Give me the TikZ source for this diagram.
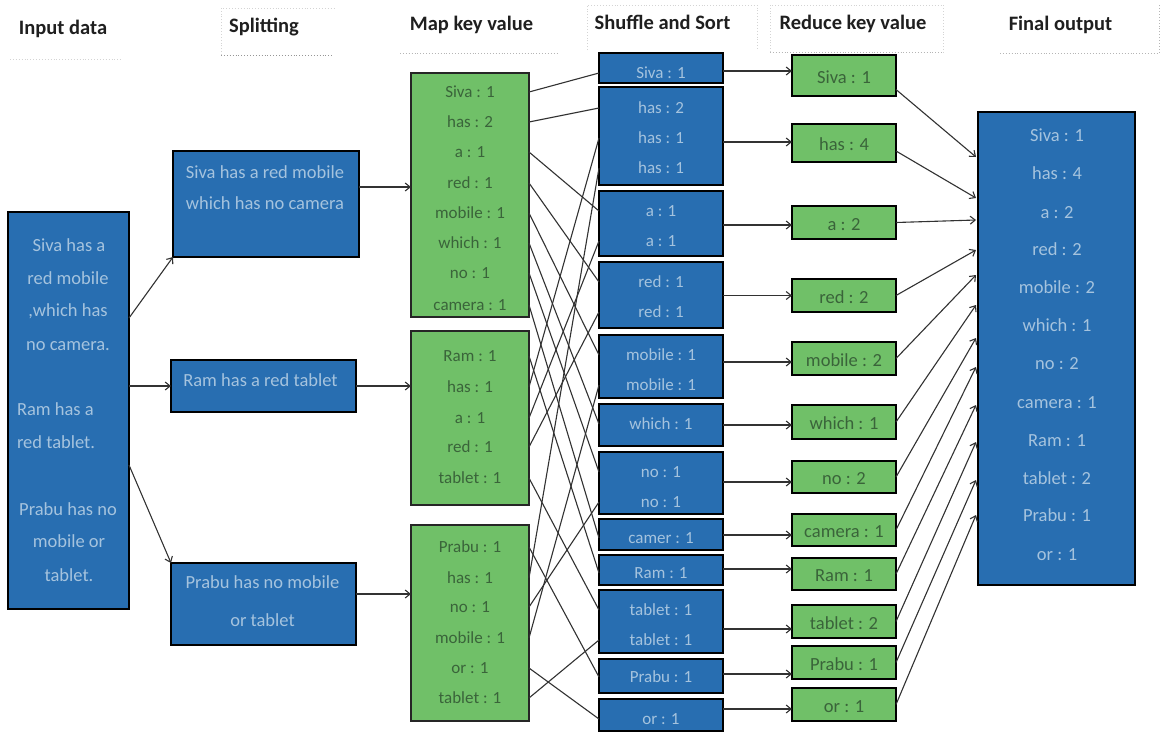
\documentclass[tikz,border=0pt]{standalone}
\usepackage{fontspec}
\setmainfont{Carlito}
\usetikzlibrary{arrows.meta}
\definecolor{boxblue}{RGB}{40,110,177}
\definecolor{boxgreen}{RGB}{112,192,104}
\definecolor{bluetext}{RGB}{165,195,222}
\definecolor{greentext}{RGB}{58,100,58}
\definecolor{wirecol}{RGB}{50,50,50}
\definecolor{rulecol}{RGB}{212,212,212}
\definecolor{rulecoldark}{RGB}{150,150,150}
\begin{document}
\begin{tikzpicture}[x=1pt,y=-1pt,
  txt/.style={inner sep=0pt, outer sep=0pt},
  head/.style={txt, text height=14.4pt, text depth=2pt, font=\fontsize{20.5}{24}\selectfont\bfseries, text=black!88},
  bluebox/.style={rectangle, draw=black, line width=2pt, fill=boxblue, inner sep=0pt, outer sep=0pt},
  shufbox/.style={bluebox, line width=2.3pt, minimum width=124pt},
  mapbox/.style={rectangle, draw=black!85, line width=1.8pt, fill=boxgreen, inner sep=0pt, outer sep=0pt, minimum width=118pt},
  redbox/.style={rectangle, draw=black, line width=2.8pt, fill=boxgreen, txt, text height=17pt, text depth=2pt, minimum width=104pt, font=\fontsize{18.5}{22}\selectfont, text=greentext},
  btext/.style={txt, text height=13pt, text depth=2pt, font=\fontsize{18.5}{22}\selectfont, text=bluetext},
  mapent/.style={txt, text height=12.2pt, text depth=2pt, font=\fontsize{17}{20}\selectfont, text=greentext, minimum width=118pt},
  shufent/.style={txt, text height=12.2pt, text depth=2pt, font=\fontsize{17}{20}\selectfont, text=bluetext, minimum width=124pt},
  link/.style={draw=wirecol, line width=1.1pt},
  arr/.style={link, -{Straight Barb[length=5pt,width=8pt]}},
  hdrrule/.style={draw=rulecol, line width=0.9pt, dotted},
]
\fill[white] (0,0) rectangle (1165,732);
\useasboundingbox (0,0) rectangle (1165,732);

% column headings and their faint frames
\draw[hdrrule] (10,59) -- (123,59);
\draw[hdrrule] (221,55) -- (221,8) -- (334,8);
\draw[hdrrule, draw=rulecoldark] (221,55) -- (334,55);
\draw[hdrrule, draw=rulecoldark!70] (400,53) -- (557,53);
\draw[hdrrule] (587,50) -- (587,5) -- (757,5) -- (757,50);
\draw[hdrrule] (770,52) -- (770,5) -- (943,5) -- (943,52);
\draw[hdrrule, draw=rulecoldark!70] (770,52) -- (943,52);
\draw[hdrrule, draw=rulecoldark!70] (1000,53) -- (1159,53) -- (1159,5);
\node[head] (hInput) at (63,28) {Input data};
\node[head] (hSplit) at (264,26) {Splitting};
\node[head] (hMap) at (471.5,24) {Map key value};
\node[head] (hShuf) at (662.5,23) {Shuffle and Sort};
\node[head] (hRed) at (853,23) {Reduce key value};
\node[head] (hOut) at (1060.5,24) {Final output};

% input data
\node[bluebox, minimum width=121pt, minimum height=397pt] (inbox) at (68.5,410.5) {};
\node[btext] (in1) at (69,246) {Siva has a};
\node[btext] (in2) at (68,279) {red mobile};
\node[btext] (in3) at (68,311) {,which has};
\node[btext] (in4) at (68,345) {no camera.};
\node[btext, anchor=west] (in5) at (17,410) {Ram has a};
\node[btext, anchor=west] (in6) at (17,443) {red tablet.};
\node[btext] (in7) at (68,510) {Prabu has no};
\node[btext] (in8) at (69,542) {mobile or};
\node[btext] (in9) at (69,576) {tablet.};

% splitting
\node[bluebox, minimum width=186pt, minimum height=106pt] (sp1) at (266,204) {};
\node[btext] (sp1a) at (265,173) {Siva has a red mobile};
\node[btext] (sp1b) at (265,204) {which has no camera};
\node[bluebox, minimum width=185pt, minimum height=52pt] (sp2) at (263.5,386) {};
\node[btext] (sp2a) at (260.5,381) {Ram has a red tablet};
\node[bluebox, minimum width=185pt, minimum height=82pt] (sp3) at (263.5,604) {};
\node[btext] (sp3a) at (262.5,583) {Prabu has no mobile};
\node[btext] (sp3b) at (262.5,621) {or tablet};

% map key value
\node[mapbox, minimum height=244pt] (map1) at (470,195) {};
\node[mapbox, minimum height=174pt] (map2) at (470,418) {};
\node[mapbox, minimum height=196pt] (map3) at (470,623) {};
\foreach \t/\y [count=\i] in {Siva : 1/92, has : 2/122, a : 1/152, red : 1/183,
    mobile : 1/213, which : 1/243, no : 1/273, camera : 1/305,
    Ram : 1/356, has : 1/387, a : 1/418, red : 1/447, tablet : 1/478,
    Prabu : 1/547, has : 1/578, no : 1/607, mobile : 1/638, or : 1/668, tablet : 1/698}
  \node[mapent] (m\i) at (470,\y) {\t};

% shuffle and sort
\foreach \n/\c/\h in {1/68/30, 2/136/98, 3/223.5/65, 4/295/66, 5/366.5/63, 6/425/42,
    7/483/62, 8/534.5/31, 9/570/30, 10/621.5/63, 11/676/34, 12/715/32}
  \node[shufbox, minimum height=\h] (sb\n) at (661,\c) {};
\foreach \t/\y [count=\i] in {Siva : 1/73, has : 2/108, has : 1/138, has : 1/168,
    a : 1/211, a : 1/241, red : 1/282, red : 1/312, mobile : 1/355, mobile : 1/385,
    which : 1/424, no : 1/472, no : 1/502, camer : 1/538, Ram : 1/573,
    tablet : 1/610, tablet : 1/640, Prabu : 1/677, or : 1/719}
  \node[shufent] (s\i) at (661,\y) {\t};

% reduce key value
\foreach \t/\c/\h [count=\i] in {Siva : 1/75.5/41, has : 4/143/38, a : 2/222.5/33,
    red : 2/295.5/33, mobile : 2/358.5/33, which : 1/422/34, no : 2/477/32,
    camera : 1/530/32, Ram : 1/574/32, tablet : 2/621.5/33, Prabu : 1/662.5/33, or : 1/704.5/33}
  \node[redbox, minimum height=\h] (r\i) at (844,\c) {\t};

% final output
\node[bluebox, minimum width=157pt, minimum height=473pt] (fin) at (1056.5,348.5) {};
\foreach \t/\y [count=\i] in {Siva : 1/136, has : 4/174, a : 2/213, red : 2/250,
    mobile : 2/288, which : 1/326, no : 2/364, camera : 1/403, Ram : 1/441,
    tablet : 2/479, Prabu : 1/516, or : 1/555}
  \node[btext] (o\i) at (1057,\y) {\t};
\foreach \y [count=\i] in {157,198,220,250,275,305,338,367,405,442,480,515}
  \coordinate (c\i) at (976,\y);

% input -> splitting
\draw[arr] ([yshift=92.5]inbox.east) -- (sp1.south west);
\draw[arr] (sp2.west -| inbox.east) -- (sp2.west);
\draw[arr] ([yshift=-54.5]inbox.east) -- (sp3.north west);

% splitting -> map
\draw[arr] ([yshift=17]sp1.east) -- ([yshift=17]sp1.east -| map1.west);
\draw[arr] (sp2.east) -- (sp2.east -| map2.west);
\draw[arr] ([yshift=10]sp3.east) -- ([yshift=10]sp3.east -| map3.west);

% map -> shuffle
\foreach \a/\b in {1/1, 2/2, 3/5, 4/7, 5/9, 6/11, 7/12, 8/14, 9/15, 10/3, 11/6,
    12/8, 13/16, 14/18, 15/4, 16/13, 17/10, 18/19, 19/17}
  \draw[link] (m\a.east) -- (s\b.west);

% shuffle -> reduce
\foreach \i/\d in {1/4.5, 2/1, 3/-2.5, 4/0, 5/-3.5, 6/-3, 7/-5, 8/-5, 9/5, 10/-7.5, 11/-11.5, 12/-4.5}
  \draw[arr] ([yshift=\d]r\i.west -| sb\i.east) -- ([yshift=\d]r\i.west);

% reduce -> final output
\draw[arr] ([yshift=-14]r1.east) -- (c1);
\draw[arr] ([yshift=-8]r2.east) -- (c2);
\foreach \i in {3,...,12}
  \draw[arr] (r\i.east) -- (c\i);
\end{tikzpicture}
\end{document}
